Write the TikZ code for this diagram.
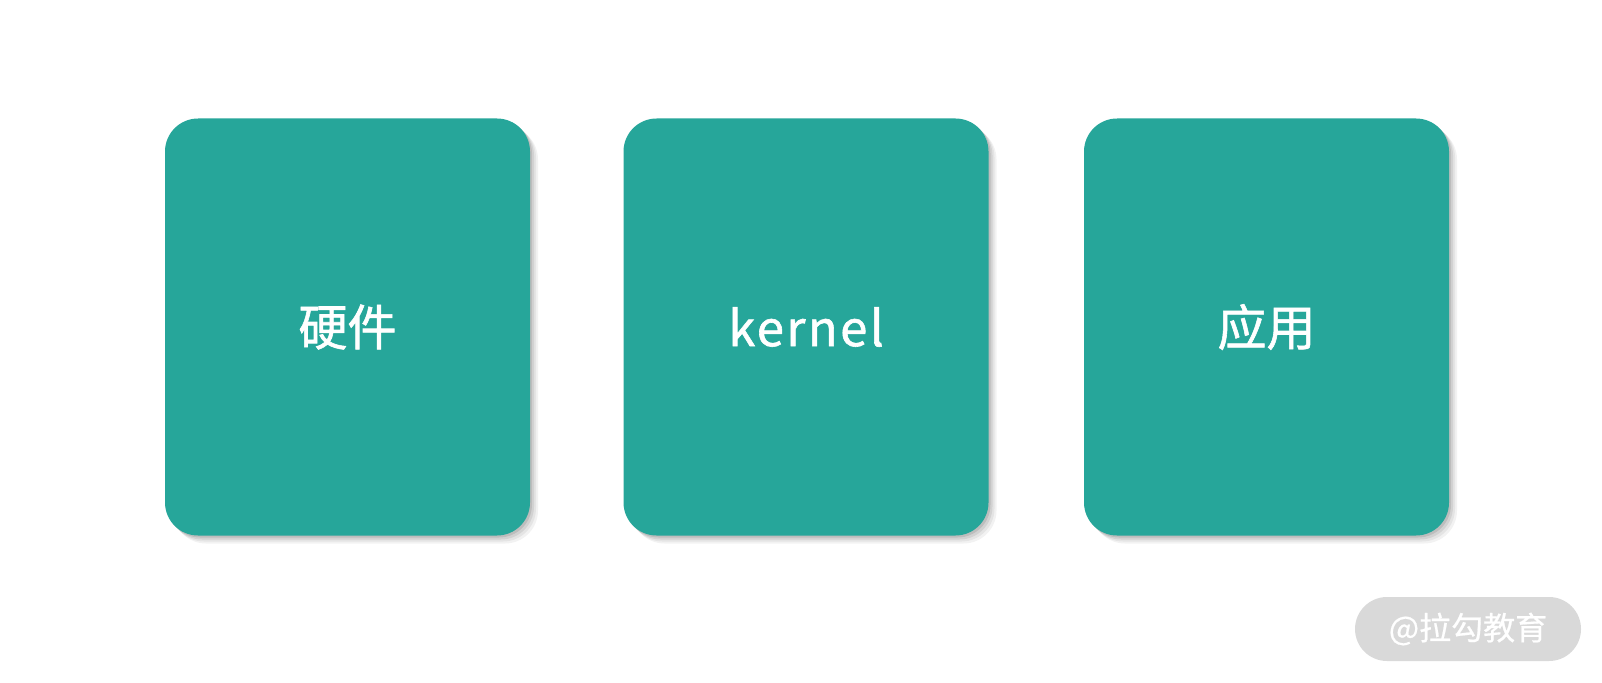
\documentclass[tikz,border=0pt]{standalone}
\usepackage{fontspec}
\setmainfont{Noto Sans CJK SC}
\newfontfamily\cjk{Noto Sans CJK SC}[FakeBold=1.2]
\newfontfamily\cjkwm{Noto Sans CJK SC}[FakeBold=0.6]
\usetikzlibrary{shadows}
\definecolor{teal1}{HTML}{26A69A}
\definecolor{wmgray}{HTML}{D9D9D9}
\begin{document}
\begin{tikzpicture}[x=1pt,y=-1pt,
  card/.style={fill=teal1, rounded corners=33pt, minimum width=365pt, minimum height=417pt, inner sep=0pt,
    text=white, font=\cjk\fontsize{49}{52}\selectfont,
    general shadow={fill=black, opacity=0.05, shadow xshift=8pt, shadow yshift=-8pt},
    general shadow={fill=black, opacity=0.06, shadow xshift=6pt, shadow yshift=-6pt},
    general shadow={fill=black, opacity=0.08, shadow xshift=4pt, shadow yshift=-4pt},
    general shadow={fill=black, opacity=0.10, shadow xshift=2pt, shadow yshift=-2pt}},
  wm/.style={fill=wmgray, rounded corners=32pt, minimum width=226pt, minimum height=64pt, inner sep=0pt,
    text=white, font=\cjkwm\fontsize{32}{36}\selectfont}]
\useasboundingbox (0,0) rectangle (1602,682);
\node[card] (hw) at (347.5,327) {硬件};
\node[card] (kn) at (806,327) {\addfontfeature{LetterSpace=5}kernel};
\node[card] (app) at (1266.5,327) {应用};
\node[wm] (mark) at (1468,629) {@拉勾教育};
\end{tikzpicture}
\end{document}
